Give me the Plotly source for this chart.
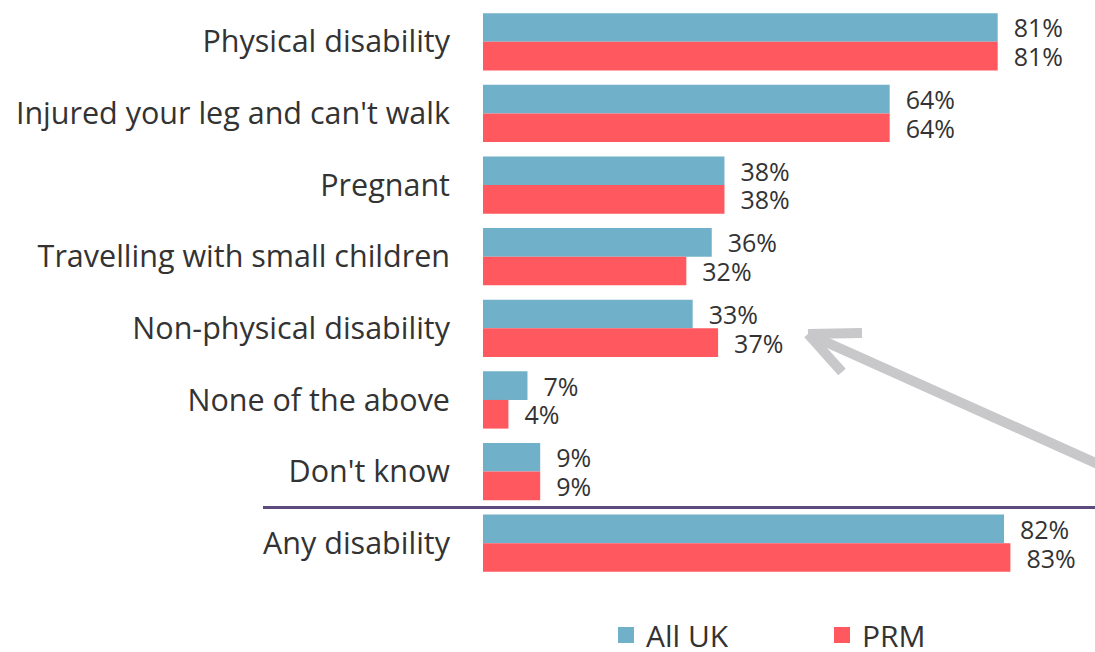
import plotly.graph_objects as go

categories = [
    "Physical disability",
    "Injured your leg and can't walk",
    "Pregnant",
    "Travelling with small children",
    "Non-physical disability",
    "None of the above",
    "Don't know",
    "Any disability",
]
all_uk = [81, 64, 38, 36, 33, 7, 9, 82]
prm = [81, 64, 38, 32, 37, 4, 9, 83]

BLUE = "#70B0C8"
RED = "#FF585E"
FONT = "Open Sans"
TEXT_COL = "#333333"

W, H = 1095, 652
L, R, T, B = 483, 2, 6, 73
X_MAX = 96

fig = go.Figure()
for name, vals, col in [("All UK", all_uk, BLUE), ("PRM", prm, RED)]:
    fig.add_trace(go.Bar(
        y=categories, x=vals, orientation="h", name=name,
        marker=dict(color=col, line=dict(width=0)),
        text=[f"\u00a0\u00a0{v}%" for v in vals],
        textposition="outside", constraintext="none", cliponaxis=False,
        textfont=dict(family=FONT, size=25, color=TEXT_COL),
        showlegend=False,
    ))
    # legend swatch
    fig.add_trace(go.Scatter(
        x=[None], y=[None], mode="markers", name=name,
        marker=dict(symbol="square", size=18, color=col),
    ))

# plot-area pixel -> paper helpers for decorations
pw, ph = W - L - R, H - T - B
def px(x):
    return (x - L) / pw
def py(y):
    return (H - B - y) / ph

shapes = []
# divider above the summary row
shapes.append(dict(type="line", xref="paper", yref="y",
                   x0=px(263), x1=px(1100), y0=6.5, y1=6.5,
                   line=dict(color="#5E4B7E", width=3)))
# grey arrow pointing at the non-physical row
tip = (808, 334)
arrow_col = "#C8C8CA"
for (x0, y0) in [(1100, 465), (862, 333), (842, 372)]:
    shapes.append(dict(type="line", xref="paper", yref="paper",
                       x0=px(x0), y0=py(y0), x1=px(tip[0]), y1=py(tip[1]),
                       line=dict(color=arrow_col, width=10)))

fig.update_layout(
    width=W, height=H,
    margin=dict(l=L, r=R, t=T, b=B),
    paper_bgcolor="white", plot_bgcolor="white",
    barmode="group", bargap=0.2, bargroupgap=0,
    font=dict(family=FONT, color=TEXT_COL),
    xaxis=dict(range=[0, X_MAX], visible=False),
    yaxis=dict(autorange="reversed", showgrid=False, showline=False,
               ticks="", ticklabelstandoff=32,
               tickfont=dict(family=FONT, size=30.5, color=TEXT_COL)),
    legend=dict(orientation="h", xref="paper", yref="container",
                x=px(606), xanchor="left", y=17 / H, yanchor="middle",
                font=dict(family=FONT, size=30, color=TEXT_COL),
                entrywidth=171, entrywidthmode="pixels",
                itemclick=False, bgcolor="rgba(0,0,0,0)"),
    shapes=shapes,
)

fig.write_html("out.html")
